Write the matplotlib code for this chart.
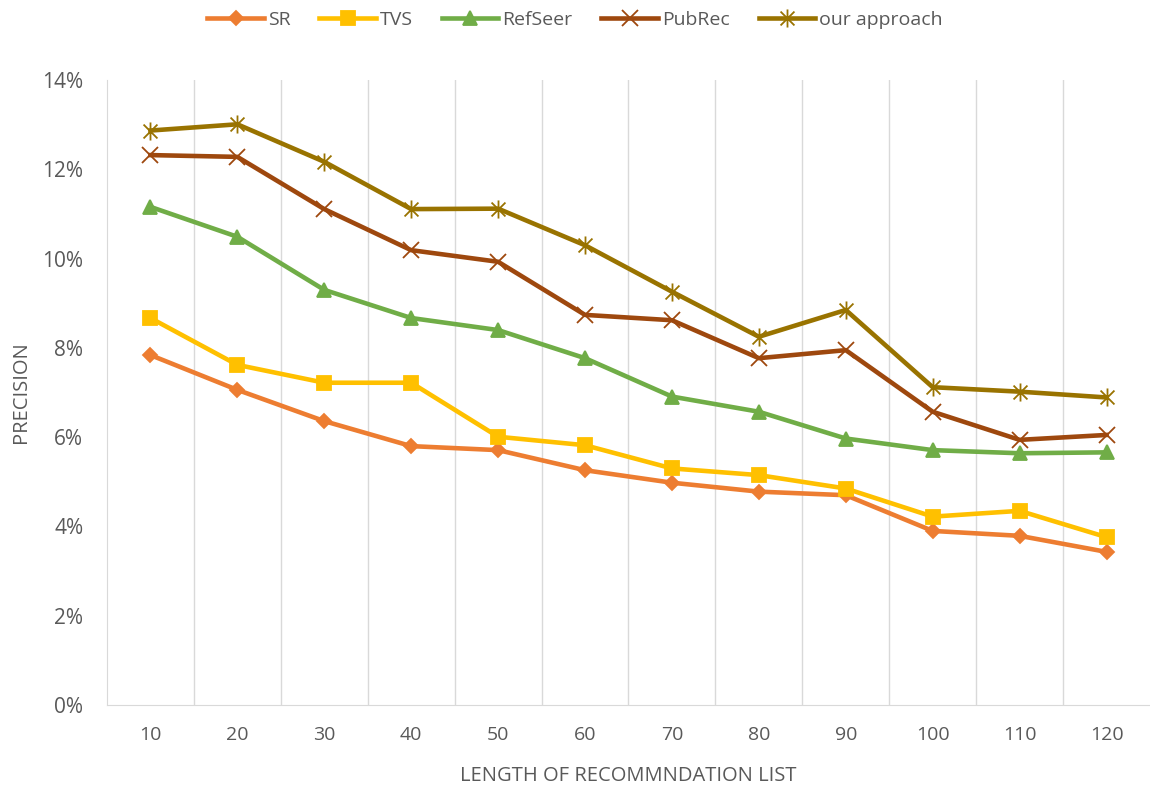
import matplotlib.pyplot as plt
from matplotlib.path import Path
from matplotlib.ticker import PercentFormatter, FixedLocator

plt.rcParams['font.family'] = ['Open Sans', 'DejaVu Sans']

lengths = [10, 20, 30, 40, 50, 60, 70, 80, 90, 100, 110, 120]
sr = [7.84, 7.06, 6.36, 5.80, 5.71, 5.26, 4.98, 4.78, 4.70, 3.90, 3.79, 3.43]
tvs = [8.67, 7.62, 7.22, 7.22, 6.01, 5.82, 5.30, 5.15, 4.85, 4.22, 4.35, 3.76]
refseer = [11.16, 10.49, 9.30, 8.67, 8.40, 7.77, 6.91, 6.57, 5.97, 5.71, 5.64, 5.66]
pubrec = [12.32, 12.28, 11.11, 10.19, 9.93, 8.74, 8.62, 7.77, 7.95, 6.57, 5.94, 6.05]
ours = [12.87, 13.01, 12.17, 11.11, 11.12, 10.30, 9.26, 8.25, 8.85, 7.12, 7.02, 6.89]

# asterisk marker: x plus vertical bar
star = Path([(-1, -1), (1, 1), (-1, 1), (1, -1), (0, -1.3), (0, 1.3)],
            [Path.MOVETO, Path.LINETO, Path.MOVETO, Path.LINETO, Path.MOVETO, Path.LINETO])

series = [
    ('SR', sr, '#ED7D31', 'D', 7.5),
    ('TVS', tvs, '#FFC000', 's', 10),
    ('RefSeer', refseer, '#70AD47', '^', 10),
    ('PubRec', pubrec, '#9E480E', 'x', 12),
    ('our approach', ours, '#997300', star, 13),
]

fig = plt.figure(figsize=(11.5, 7.9), dpi=100)
ax = fig.add_axes([0.093, 0.1076, 0.907, 0.791])

x = list(range(len(lengths)))
for name, vals, col, mk, ms in series:
    ax.plot(x, vals, color=col, lw=3.3, marker=mk, markersize=ms,
            markerfacecolor=col, markeredgecolor=col, markeredgewidth=1.3,
            label=name, zorder=3)

ax.set_xlim(-0.5, len(lengths) - 0.5)
ax.set_ylim(0, 14)
ax.set_xticks(x)
ax.set_xticklabels([str(v) for v in lengths])
ax.set_yticks(range(0, 15, 2))
ax.yaxis.set_major_formatter(PercentFormatter(decimals=0))
ax.xaxis.set_minor_locator(FixedLocator([i + 0.5 for i in range(len(lengths) - 1)]))
ax.grid(which='minor', axis='x', color='#D9D9D9', lw=1)
ax.tick_params(which='both', length=0, colors='#595959')
ax.tick_params(axis='x', pad=15, labelsize=14)
ax.tick_params(axis='y', pad=17, labelsize=15)

for s in ['top', 'right']:
    ax.spines[s].set_visible(False)
for s in ['left', 'bottom']:
    ax.spines[s].set_color('#D9D9D9')

ax.set_xlabel('LENGTH OF RECOMMNDATION LIST', color='#595959', fontsize=14.5, labelpad=16)
ax.set_ylabel('PRECISION', color='#595959', fontsize=14.5, labelpad=8)

fig.legend(loc='center', bbox_to_anchor=(0.5, 1 - 20 / 790), ncol=5, frameon=False,
           fontsize=14, handlelength=2.9, columnspacing=1.5, handletextpad=0.2,
           labelcolor='#595959')

fig.savefig('out.png', dpi=100)
